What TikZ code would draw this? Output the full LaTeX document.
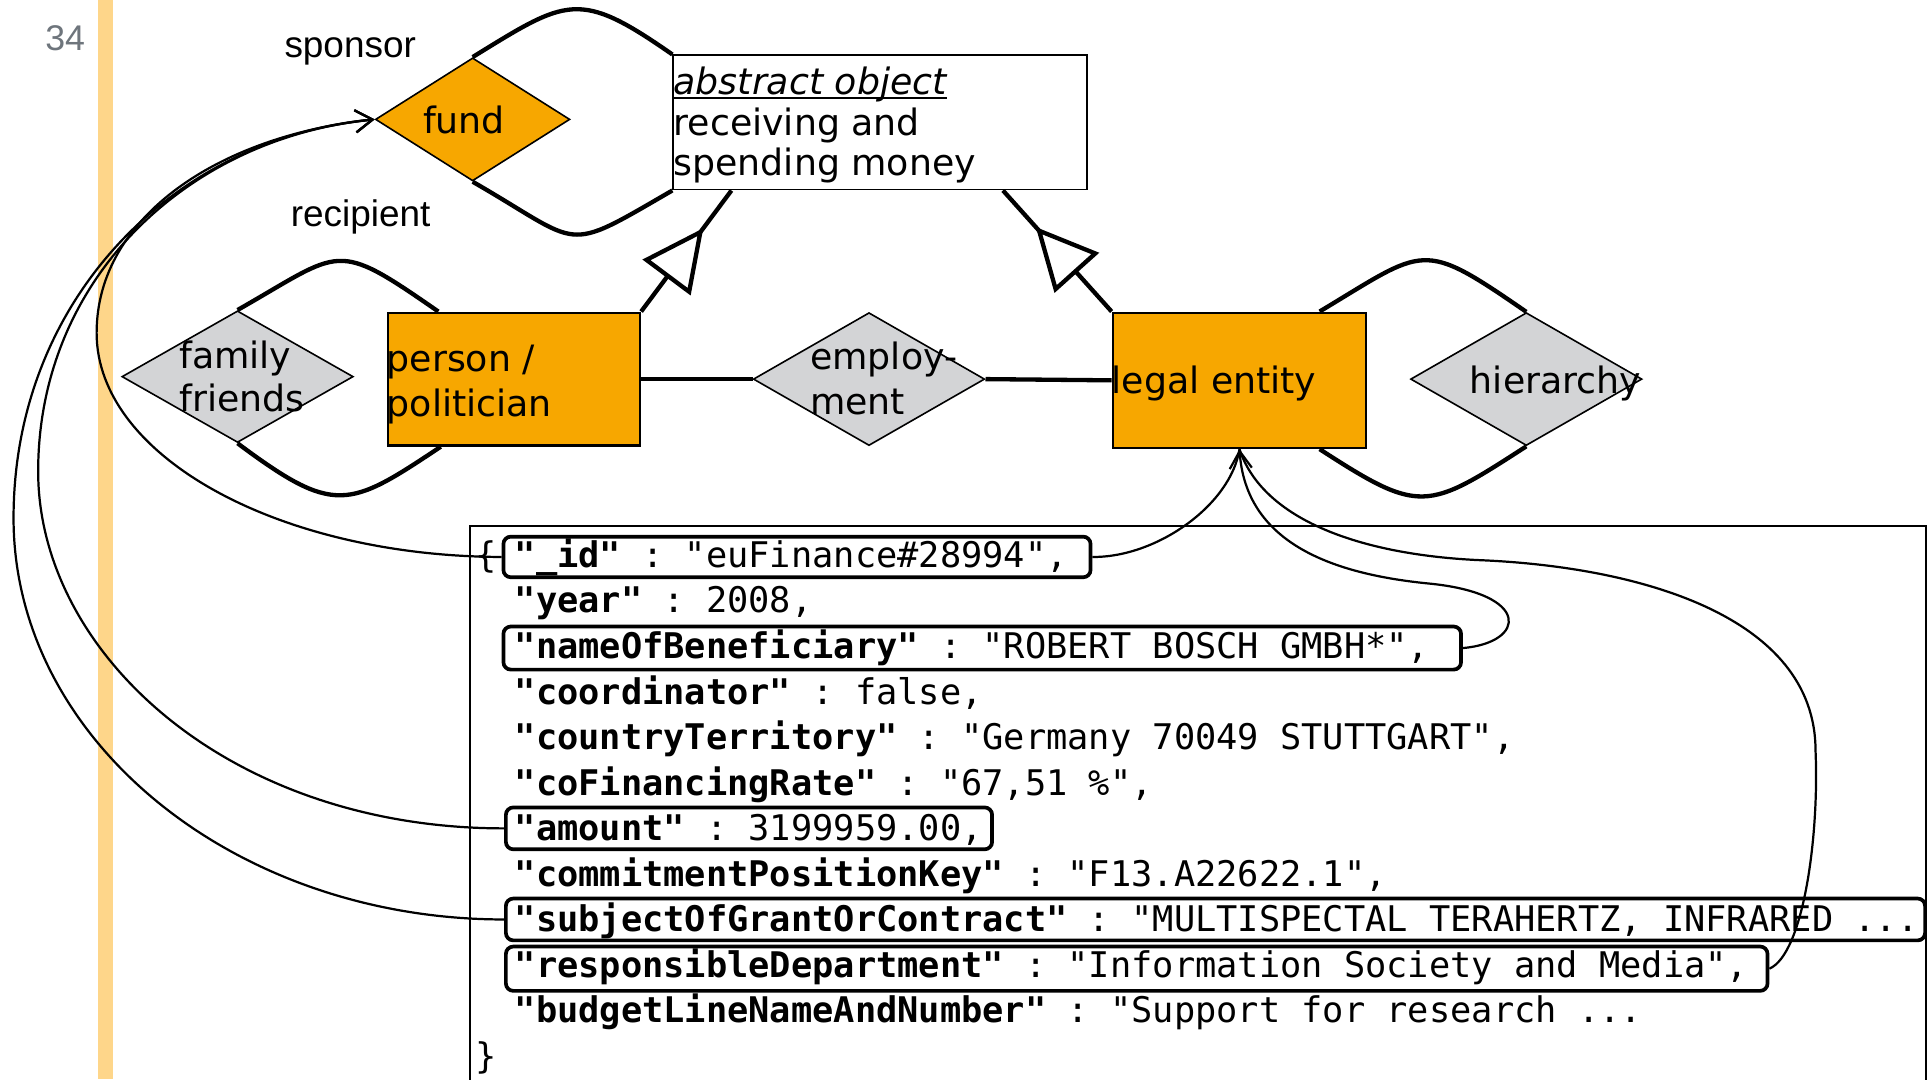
\documentclass[tikz,border=0pt]{standalone}
\usepackage{fontspec}
\setmainfont{DejaVu Sans}
\newfontfamily\lsans{Liberation Sans}
\newfontfamily\jmono{DejaVu Sans Mono}
\usetikzlibrary{shapes.geometric,arrows.meta,decorations.markings}
\definecolor{erorange}{RGB}{247,167,0}
\definecolor{ergray}{RGB}{211,212,214}
\definecolor{stripecol}{RGB}{254,214,138}
\definecolor{numgray}{RGB}{110,117,124}
\newcommand\erfont{\fontsize{29.5}{35}\selectfont}
\newcommand\rolefont{\lsans\fontsize{30}{34}\selectfont}
\newcommand\jfont{\jmono\fontsize{28.7}{37}\selectfont\frenchspacing}
\newcommand\ulit[1]{\setbox0\hbox{#1}\rlap{\rule[-3.5pt]{\wd0}{1.8pt}}\box0}
\begin{document}
\begin{tikzpicture}[x=1pt,y=-1pt,
  entity/.style={rectangle, draw, line width=1.8pt, fill=erorange, inner sep=0pt},
  rel/.style={diamond, draw, line width=1.3pt, fill=ergray, inner sep=0pt, minimum width=188pt},
  lbl/.style={inner sep=0pt, anchor=base west, font=\erfont},
  role/.style={inner sep=0pt, anchor=base, font=\rolefont},
  erline/.style={line width=3.5pt},
  conn/.style={line width=1.8pt},
  connarrow/.style={-{Straight Barb[length=14pt,width=18pt]}},
  hl/.style={draw, line width=3pt, rounded corners=6pt, inner sep=0pt},
  jl/.style={anchor=base west, inner sep=0pt, font=\jfont},
  genmark/.style={postaction={decorate}, decoration={markings, mark=at position #1 with {\arrow{Triangle[length=50pt,width=48pt,fill=white,line width=3.5pt]}}}}
]
\useasboundingbox (0,0) rectangle (1568,877);
\fill[stripecol] (80,0) rectangle (92,877);
\node[font=\lsans\fontsize{29}{32}\selectfont, text=numgray, inner sep=0pt, anchor=base] (pagenum) at (53,41) {34};

% ER part: shapes
\node[rel, fill=erorange, minimum width=158pt, minimum height=100pt] (fund) at (384,97) {};
\node[rectangle, draw, line width=1.5pt, fill=white, minimum width=336pt, minimum height=109pt, inner sep=0pt] (abs) at (715,99.5) {};
\node[entity, minimum width=205pt, minimum height=108pt] (person) at (417.5,308) {};
\node[entity, minimum width=206pt, minimum height=110pt] (legal) at (1007,309) {};
\node[rel, minimum height=107pt] (family) at (193,306) {};
\node[rel, minimum height=108pt] (employ) at (706,308) {};
\node[rel, minimum height=108pt] (hier) at (1240,308) {};

% ER part: texts
\node[lbl] (fundtxt) at (343.5,108.3) {fund};
\node[lbl] (abstxt1) at (547,77) {\ulit{\itshape abstract object}};
\node[lbl] (abstxt2) at (547,110) {receiving and};
\node[lbl] (abstxt3) at (547,142.5) {spending money};
\node[lbl] (persontxt1) at (314,302) {person /};
\node[lbl] (persontxt2) at (314,338.5) {politician};
\node[lbl] (legaltxt) at (903,319.5) {legal entity};
\node[lbl] (familytxt1) at (145.5,299) {family};
\node[lbl] (familytxt2) at (145.5,334.5) {friends};
\node[lbl] (employtxt1) at (658,300.6) {employ-};
\node[lbl] (employtxt2) at (658,337) {ment};
\node[lbl] (hiertxt) at (1194,319.5) {hierarchy};
\node[role] (sponsor) at (284.5,47) {sponsor};
\node[role] (recipient) at (293,184) {recipient};

% ER part: lines
\draw[erline] (fund.north) .. controls (461,-1) and (470,-9) .. (abs.north west);
\draw[erline] (fund.south) .. controls (475,200) and (456,207) .. (abs.south west);
\draw[erline] (family.north) .. controls (279,203) and (271,194) .. ([xshift=42pt]person.north west);
\draw[erline] (family.south) .. controls (272,419) and (283,413) .. ([xshift=44pt]person.south west);
\draw[erline] ([xshift=169pt]legal.north west) .. controls (1159,201) and (1154,194) .. (hier.north);
\draw[erline] ([xshift=169pt]legal.south west) .. controls (1154,418) and (1159,415) .. (hier.south);
\draw[erline] (person.east) -- (employ.west);
\draw[erline] (employ.east) -- (legal.west);
\draw[erline, genmark=0.69] (person.north east) -- ([xshift=48pt]abs.south west);
\draw[erline, genmark=0.70] (legal.north west) -- ([xshift=268.6pt]abs.south west);

% JSON part
\node[draw, line width=1.5pt, minimum width=1183pt, minimum height=480pt, inner sep=0pt] (json) at (973.5,667) {};
\node[hl, minimum width=477pt, minimum height=33pt] (hid) at (647.5,452.5) {};
\node[hl, minimum width=778pt, minimum height=35pt] (hname) at (798,526.5) {};
\node[hl, minimum width=395pt, minimum height=34pt] (hamount) at (608.5,673) {};
\node[hl, minimum width=1153pt, minimum height=34pt] (hsubj) at (987.5,747) {};
\node[hl, minimum width=1025pt, minimum height=36pt] (hresp) at (923.5,787) {};

\node[jl] (lbrace) at (386,461) {\{};
\node[jl] (l1) at (418,461) {{\bfseries "\_id"} : "euFinance\#28994",};
\node[jl] (l2) at (418,498) {{\bfseries "year"} : 2008,};
\node[jl] (l3) at (418,535) {{\bfseries "nameOfBeneficiary"} : "ROBERT BOSCH GMBH*",};
\node[jl] (l4) at (418,572) {{\bfseries "coordinator"} : false,};
\node[jl] (l5) at (418,609) {{\bfseries "countryTerritory"} : "Germany 70049 STUTTGART",};
\node[jl] (l6) at (418,646) {{\bfseries "coFinancingRate"} : "67,51 \%",};
\node[jl] (l7) at (418,683) {{\bfseries "amount"} : 3199959.00,};
\node[jl] (l8) at (418,720) {{\bfseries "commitmentPositionKey"} : "F13.A22622.1",};
\node[jl] (l9) at (418,757) {{\bfseries "subjectOfGrantOrContract"} : "MULTISPECTAL TERAHERTZ, INFRARED ...};
\node[jl] (l10) at (418,794) {{\bfseries "responsibleDepartment"} : "Information Society and Media",};
\node[jl] (l11) at (418,831) {{\bfseries "budgetLineNameAndNumber"} : "Support for research ...};
\node[jl] (rbrace) at (386,868) {\}};

% connectors
\draw[conn, connarrow] (hid.west) .. controls (227,452) and (78.5,371) .. (78.5,270.5) .. controls (78.5,175) and (180,110) .. (fund.west);
\draw[conn, connarrow] (hamount.west) .. controls (185,673) and (31,530) .. (31,383) .. controls (31,225) and (154,112) .. (fund.west);
\draw[conn, connarrow] (hsubj.west) .. controls (190,747) and (11,601) .. (11,421) .. controls (11,242) and (143,112) .. (fund.west);
\draw[conn] (hid.east) .. controls (940,453) and (1000,410) .. (legal.south);
\draw[conn, connarrow] (hname.east) .. controls (1240,522) and (1245,482) .. (1160,474) .. controls (1080,466) and (1012,440) .. (legal.south);
\draw[conn] (hresp.east) .. controls (1465,775) and (1478,680) .. (1475,610) .. controls (1475,500) and (1330,460) .. (1200,455) .. controls (1100,450) and (1025,420) .. (legal.south);
\end{tikzpicture}
\end{document}
